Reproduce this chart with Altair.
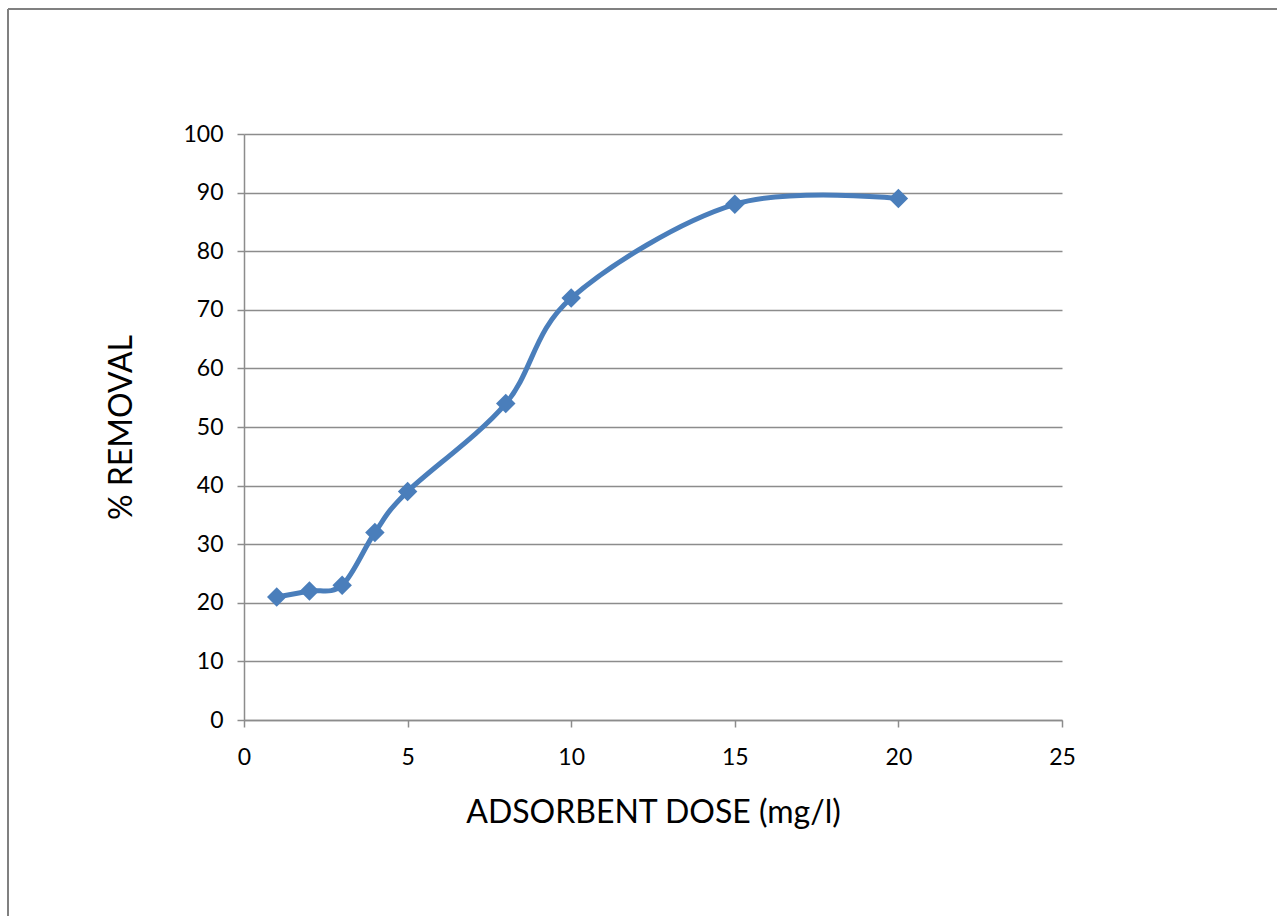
import altair as alt
import pandas as pd

# Adsorbent dose (mg/l) versus percentage removal
dose = [1, 2, 3, 4, 5, 8, 10, 15, 20]
removal = [21, 22, 23, 32, 39, 54, 72, 88, 89]

df = pd.DataFrame({"dose": dose, "removal": removal})

W, H = 818, 586
LEFT, TOP = 244, 134
FONT = "Lato"
GRID = "#8c8c8c"

x_enc = alt.X(
    "dose:Q",
    scale=alt.Scale(domain=[0, 25], nice=False, zero=True),
    axis=alt.Axis(
        values=[0, 5, 10, 15, 20, 25],
        title="ADSORBENT DOSE (mg/l)",
        titleFont=FONT, titleFontSize=32, titleFontWeight="normal",
        titleColor="#000000", titlePadding=28,
        labelFont=FONT, labelFontSize=23, labelColor="#000000",
        labelPadding=19, labelFlush=False,
        tickSize=7, tickColor=GRID, domainColor=GRID,
        domainWidth=1.5, tickWidth=1.5, grid=False,
    ),
)
y_enc = alt.Y(
    "removal:Q",
    scale=alt.Scale(domain=[0, 100], nice=False),
    axis=alt.Axis(
        values=list(range(0, 101, 10)),
        title="% REMOVAL",
        titleFont=FONT, titleFontSize=32, titleFontWeight="normal",
        titleColor="#000000", titlePadding=44,
        labelFont=FONT, labelFontSize=23, labelColor="#000000",
        labelPadding=14, labelFlush=False,
        tickSize=7, tickColor=GRID, domainColor=GRID,
        domainWidth=1.5, tickWidth=1.5,
        grid=True, gridColor=GRID, gridWidth=1.5,
    ),
)

curve = alt.Chart(df).mark_line(
    interpolate="cardinal", color="#4a7ebb", strokeWidth=5
).encode(x=x_enc, y=y_enc)

points = alt.Chart(df).mark_point(
    shape="diamond", filled=True, color="#4a7ebb", size=380, opacity=1
).encode(x="dose:Q", y="removal:Q")

# Outer frame lines on the left and top of the chart box
frame_left = alt.Chart(df).mark_rule(color="#808080", strokeWidth=2).encode(
    x=alt.value(8 - LEFT), y=alt.value(9 - TOP), y2=alt.value(916 - TOP)
)
frame_top = alt.Chart(df).mark_rule(color="#808080", strokeWidth=2).encode(
    x=alt.value(8 - LEFT), x2=alt.value(1277 - LEFT), y=alt.value(9 - TOP)
)

chart = (
    alt.layer(curve, points, frame_left, frame_top)
    .properties(
        width=W, height=H,
        autosize=alt.AutoSizeParams(type="none"),
        padding={"left": LEFT, "top": TOP, "right": 1278 - LEFT - W, "bottom": 916 - TOP - H},
        background="#ffffff",
    )
    .configure_view(stroke=None)
)

chart.save("out.html", embed_options={"renderer": "svg", "actions": False})
